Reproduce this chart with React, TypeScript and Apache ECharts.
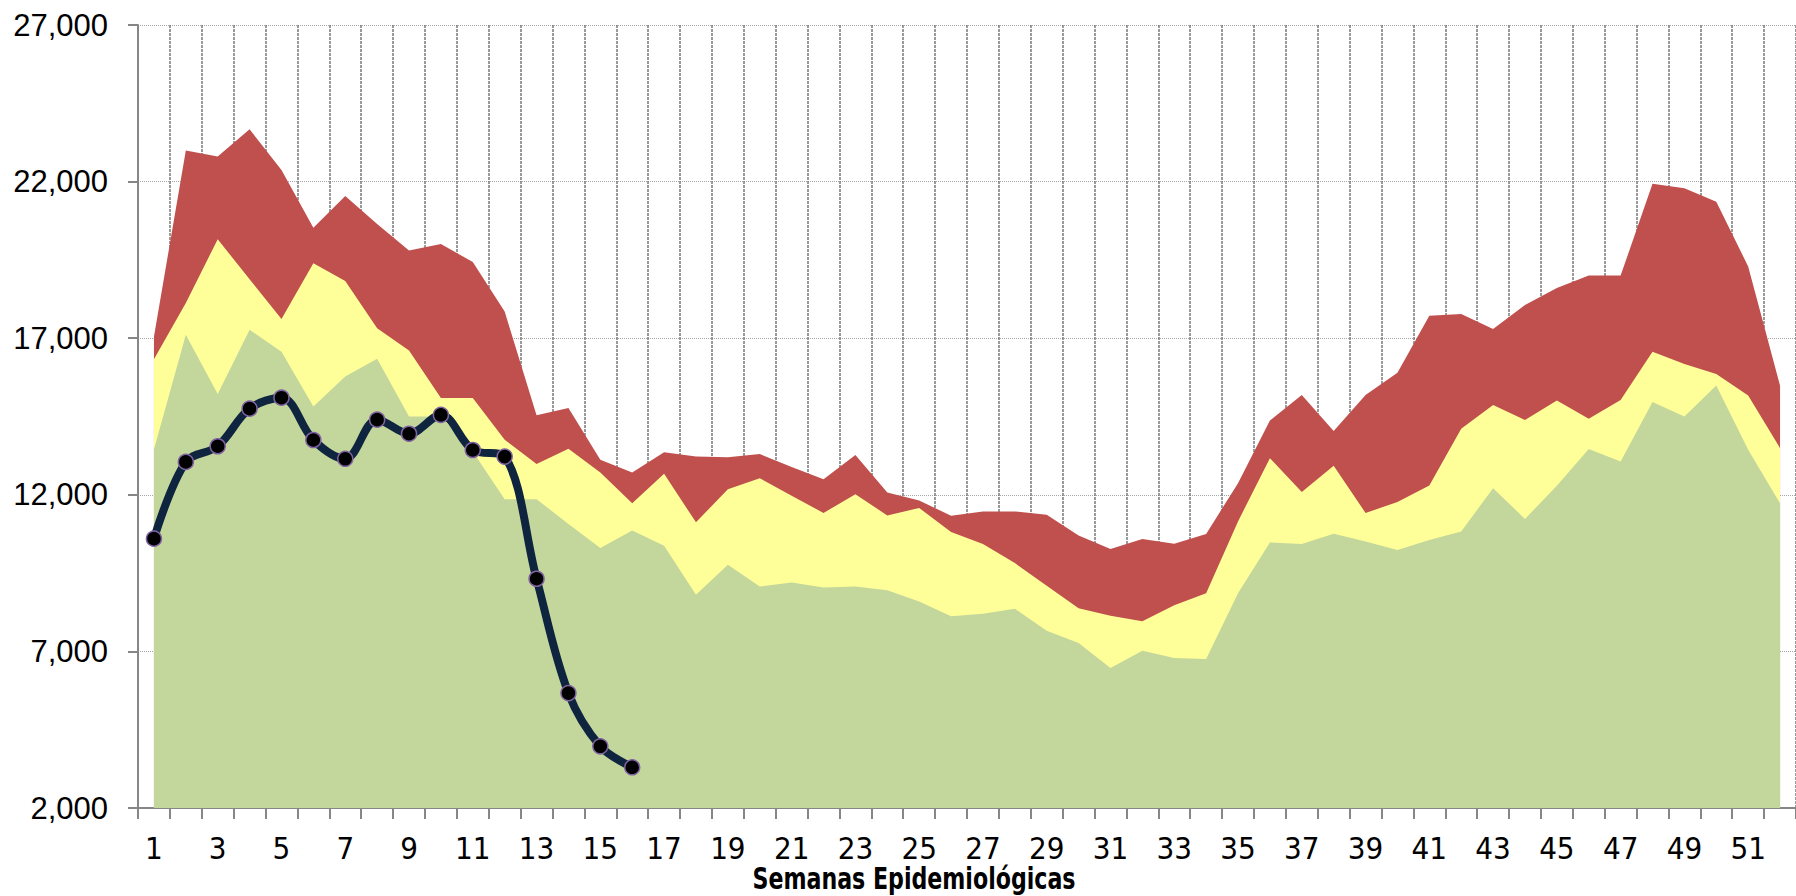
import React, { useEffect, useRef } from "react";
import * as echarts from "echarts";

const weeks = [
  "1", "2", "3", "4", "5", "6", "7", "8", "9", "10", "11", "12", "13",
  "14", "15", "16", "17", "18", "19", "20", "21", "22", "23", "24", "25", "26",
  "27", "28", "29", "30", "31", "32", "33", "34", "35", "36", "37", "38", "39",
  "40", "41", "42", "43", "44", "45", "46", "47", "48", "49", "50", "51", "52",
];

const alarmZone = [
  17050, 22990, 22800, 23670, 22370, 20530, 21540, 20650, 19800, 20010, 19430, 17850, 14540,
  14770, 13120, 12710, 13360, 13220, 13200, 13300, 12890, 12500, 13270, 12070, 11820, 11330,
  11470, 11470, 11360, 10700, 10270, 10590, 10440, 10750, 12370, 14370, 15190, 14040, 15190,
  15900, 17720, 17770, 17290, 18060, 18600, 19000, 19000, 21930, 21790, 21360, 19290, 15480,
];

const securityZone = [
  16330, 18120, 20160, 18880, 17610, 19390, 18830, 17320, 16610, 15090, 15090, 13760, 12980,
  13470, 12710, 11730, 12670, 11120, 12180, 12530, 11970, 11420, 12020, 11340, 11580, 10810,
  10430, 9820, 9100, 8380, 8140, 7960, 8470, 8860, 11150, 13170, 12090, 12930, 11420,
  11770, 12300, 14110, 14870, 14390, 15010, 14430, 15030, 16570, 16180, 15860, 15170, 13490,
];

const successZone = [
  13450, 17110, 15220, 17270, 16570, 14820, 15780, 16340, 14500, 14500, 13380, 11860, 11860,
  11070, 10300, 10860, 10370, 8810, 9770, 9070, 9200, 9040, 9070, 8950, 8590, 8120,
  8200, 8360, 7660, 7270, 6470, 7020, 6790, 6760, 8860, 10480, 10430, 10760, 10510,
  10240, 10560, 10830, 12210, 11230, 12290, 13460, 13060, 14960, 14500, 15490, 13440, 11730,
];

const currentYear = [
  10600, 13050, 13550, 14750, 15100, 13750, 13150, 14400, 13950, 14550, 13430, 13220, 9320,
  5670, 3970, 3300,
];

const yMin = 2000;
const yMax = 27000;
const yStep = 5000;

const xTitle = "Semanas Epidemiológicas";

const NARROW = "'Liberation Sans Narrow', 'DejaVu Sans Condensed', 'Arial Narrow', sans-serif";
const ARIAL = "'Liberation Sans', Arial, sans-serif";

export default function App() {
  const ref = useRef<HTMLDivElement>(null);

  useEffect(() => {
    if (!ref.current) return;
    const chart = echarts.init(ref.current, undefined, { renderer: "svg" });
    const axisGray = "#868686";
    const area = (name: string, data: number[], color: string) => ({
      name,
      type: "line",
      data,
      symbol: "none",
      showSymbol: false,
      lineStyle: { width: 0, color },
      itemStyle: { color },
      areaStyle: { color, opacity: 1, origin: "start" },
      emphasis: { disabled: true },
      silent: true,
    });
    const option: any = {
      animation: false,
      backgroundColor: "#ffffff",
      grid: { left: 138, right: -8, top: 25, bottom: 88, containLabel: false },
      xAxis: {
        type: "category",
        data: weeks,
        boundaryGap: true,
        axisLine: { show: true, lineStyle: { color: axisGray, width: 2 } },
        axisTick: { show: true, interval: 0, length: 11, lineStyle: { color: axisGray, width: 2 } },
        axisLabel: {
          interval: 1,
          margin: 24,
          color: "#000",
          fontSize: 31,
          fontFamily: NARROW,
        },
        splitLine: {
          show: true,
          interval: 0,
          lineStyle: { color: "#7a7a7a", width: 1.5, type: [3, 1] },
        },
      },
      yAxis: {
        type: "value",
        min: yMin,
        max: yMax,
        interval: yStep,
        axisLine: { show: true, lineStyle: { color: axisGray, width: 2 } },
        axisTick: { show: true, length: 10, lineStyle: { color: axisGray, width: 2 } },
        axisLabel: {
          margin: 30,
          color: "#000",
          fontSize: 31,
          fontFamily: ARIAL,
          formatter: (v: number) => v.toLocaleString("en-US"),
        },
        splitLine: {
          show: true,
          lineStyle: { color: "#a6a6a6", width: 1.2, type: [1, 1] },
        },
      },
      graphic: [
        {
          type: "text",
          x: 914,
          y: 864,
          scaleX: 0.82,
          style: {
            text: xTitle,
            fill: "#000",
            font: `bold 30px ${NARROW}`,
            textAlign: "center",
            textVerticalAlign: "top",
          },
        },
      ],
      series: [
        area("Zona de alarma", alarmZone, "#C0504D"),
        area("Zona de seguridad", securityZone, "#FFFF99"),
        area("Zona de éxito", successZone, "#C3D69B"),
        {
          name: "Casos",
          type: "line",
          data: currentYear,
          smooth: 0.35,
          symbol: "circle",
          symbolSize: 15,
          lineStyle: { color: "#0F243E", width: 8 },
          itemStyle: { color: "#000000", borderColor: "#8064A2", borderWidth: 1.5 },
          z: 5,
        },
      ],
    };
    chart.setOption(option);
    return () => chart.dispose();
  }, []);

  return (
    <div
      ref={ref}
      style={{ position: "fixed", left: 0, top: 0, width: 1796, height: 896, background: "#fff" }}
    />
  );
}
